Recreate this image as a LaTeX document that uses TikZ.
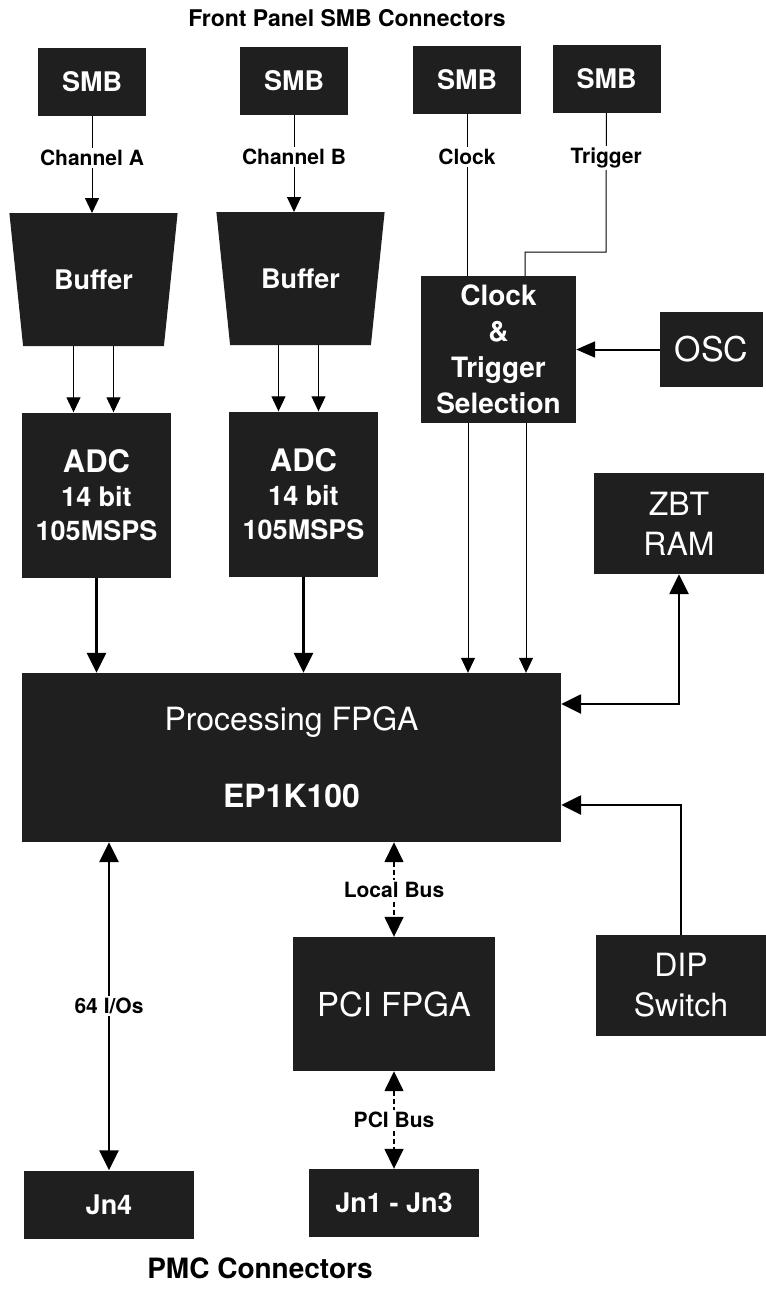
\documentclass[tikz,border=0pt]{standalone}
\usepackage{fontspec}
\setmainfont{TeX Gyre Heros}
\usetikzlibrary{positioning, arrows.meta, shapes.geometric}
\definecolor{boxfill}{gray}{0.12}

\begin{document}
\begin{tikzpicture}[x=1pt, y=-1pt,
    blk/.style={fill=boxfill, text=white, inner sep=0pt, align=center},
    smb/.style={blk, minimum width=108pt, minimum height=68pt, font=\fontsize{27}{30}\selectfont\bfseries},
    buf/.style={blk, trapezium, shape border rotate=180, trapezium angle=69,
        trapezium stretches=true, minimum width=169pt, minimum height=133pt,
        font=\fontsize{27}{30}\selectfont\bfseries},
    adc/.style={blk, minimum width=149pt, minimum height=165pt, font=\fontsize{27}{34}\selectfont\bfseries},
    unit/.style={blk, minimum width=170pt, minimum height=101pt, font=\fontsize{32}{40}\selectfont},
    jn/.style={blk, minimum width=170pt, minimum height=68pt, font=\fontsize{27}{30}\selectfont\bfseries},
    lbl/.style={fill=white, inner sep=2pt, font=\fontsize{21}{24}\selectfont\bfseries},
    head/.style={font=\fontsize{23}{26}\selectfont\bfseries},
    sig/.style={line width=1pt, >={Triangle[length=15pt,width=14pt]}},
    mid/.style={line width=2pt, >={Triangle[length=19pt,width=16pt]}},
    bus/.style={line width=2.6pt, >={Triangle[length=20pt,width=19pt]}},
    dbus/.style={line width=1.6pt, dash pattern=on 5pt off 3pt, >={Triangle[length=20pt,width=19pt]}},
]
\useasboundingbox (0,0) rectangle (766,1291);

% front panel connectors
\node[head] (top) at (347,18) {Front Panel SMB Connectors};
\node[smb] (smbA) at (92,82) {SMB};
\node[smb] (smbB) at (294,81) {SMB};
\node[smb] (smbC) at (467,80) {SMB};
\node[smb] (smbT) at (606.5,79) {SMB};

% analog chain
\node[buf] (bufA) at (93.5,279.5) {Buffer};
\node[buf] (bufB) at (300.5,278.5) {Buffer};
\coordinate (inA) at ([yshift=66.5pt]bufA.center);
\coordinate (inB) at ([yshift=66.5pt]bufB.center);
\coordinate (outA) at ([yshift=-66.5pt]bufA.center);
\coordinate (outB) at ([yshift=-66.5pt]bufB.center);
\node[adc] (adcA) at (96.5,495) {{\fontsize{31}{34}\selectfont ADC}\\14 bit\\105MSPS};
\node[adc] (adcB) at (303.5,494) {{\fontsize{31}{34}\selectfont ADC}\\14 bit\\105MSPS};

% clock section
\node[blk, minimum width=155pt, minimum height=147pt, font=\fontsize{28}{36}\selectfont\bfseries]
    (ct) at (498.5,349.5) {Clock\\\&\\Trigger\\Selection};
\node[blk, minimum width=103pt, minimum height=75pt, font=\fontsize{34}{38}\selectfont]
    (osc) at (711.5,349.5) {OSC};
\node[unit] (zbt) at (679,523.5) {ZBT\\RAM};
\coordinate (trigbend) at (606,252);

% main fpga and bus side
\node[blk, minimum width=539pt, minimum height=169pt, font=\fontsize{32}{77}\selectfont]
    (fpga) at (291.5,757.5) {Processing FPGA\\\textbf{EP1K100}};
\node[blk, minimum width=202pt, minimum height=134pt, font=\fontsize{33}{38}\selectfont]
    (pci) at (394,1004) {PCI FPGA};
\node[unit] (dip) at (681,985.5) {DIP\\Switch};
\node[jn] (jn4) at (109,1204.5) {Jn4};
\node[jn] (jn13) at (394,1203) {Jn1 - Jn3};
\node[head, font=\fontsize{28}{30}\selectfont\bfseries] (pmc) at (260,1268) {PMC Connectors};

% inputs
\draw[sig,->] (smbA) -- node[lbl, pos=0.43] {Channel A} (smbA |- inA);
\draw[sig,->] (smbB) -- node[lbl, pos=0.43] {Channel B} (smbB |- inB);
\draw[sig] (smbC) -- node[lbl, pos=0.265] {Clock} (smbC |- ct.north);
\draw[sig] (smbT) -- node[lbl, pos=0.32] {Trigger} (trigbend) -| ([xshift=26.5pt]ct.north);
\draw[mid,->] (osc) -- (ct);

% buffers to adcs
\draw[sig,->] ([xshift=-20pt]outA) -- ([xshift=-20pt]outA |- adcA.north);
\draw[sig,->] ([xshift=20pt]outA) -- ([xshift=20pt]outA |- adcA.north);
\draw[sig,->] ([xshift=-22pt]outB) -- ([xshift=-22pt]outB |- adcB.north);
\draw[sig,->] ([xshift=18pt]outB) -- ([xshift=18pt]outB |- adcB.north);

% into the fpga
\draw[bus,->] (adcA) -- (adcA |- fpga.north);
\draw[bus,->] (adcB) -- (adcB |- fpga.north);
\draw[sig,->] ([xshift=-30.5pt]ct.south) -- ([xshift=-30.5pt]ct.south |- fpga.north);
\draw[sig,->] ([xshift=27.5pt]ct.south) -- ([xshift=27.5pt]ct.south |- fpga.north);
\draw[bus,<->] (zbt) |- ([yshift=53.5pt]fpga.east);
\draw[bus,->] (dip) |- ([yshift=-47.5pt]fpga.east);

% pmc side
\draw[bus,<->] (jn4 |- fpga.south) -- node[lbl] {64 I/Os} (jn4);
\draw[dbus,<->] (pci |- fpga.south) -- node[lbl] {Local Bus} (pci);
\draw[dbus,<->] (pci) -- node[lbl] {PCI Bus} (jn13);
\end{tikzpicture}
\end{document}
